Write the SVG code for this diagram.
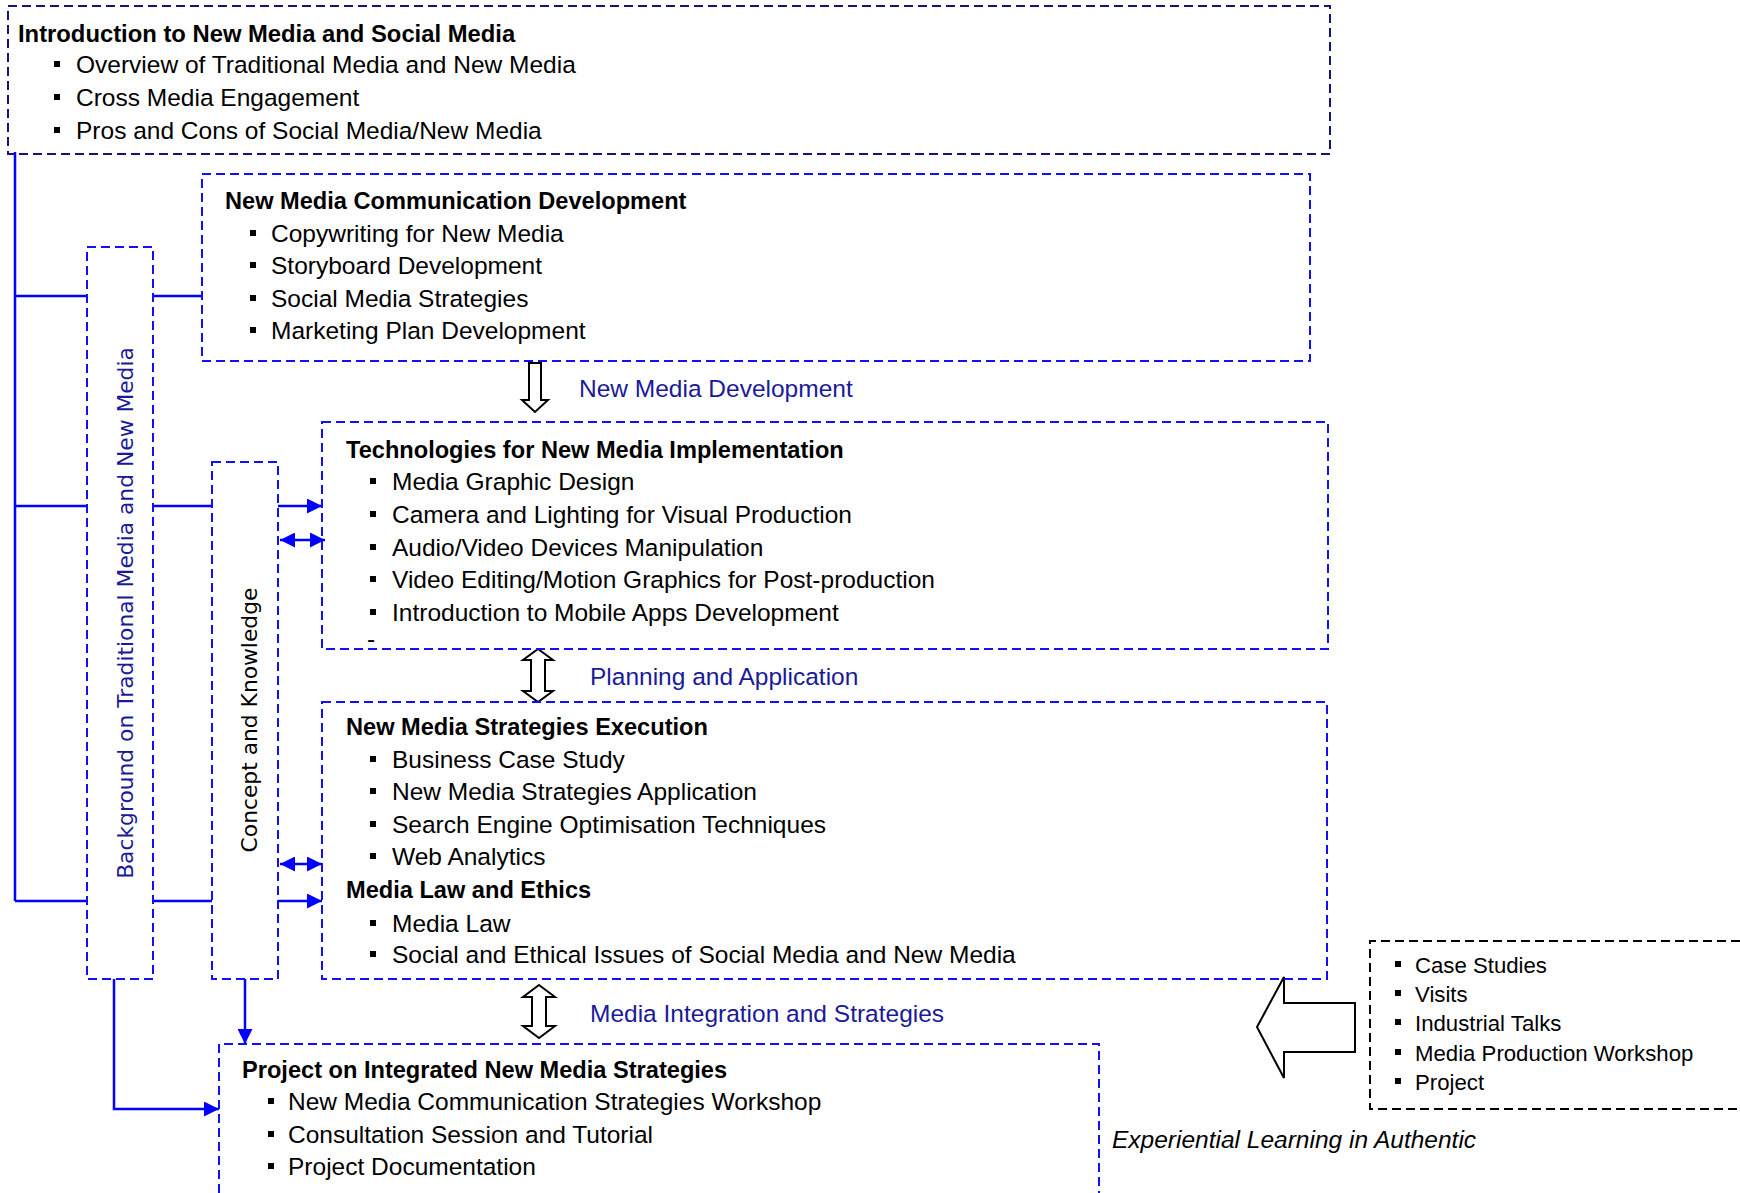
<svg xmlns="http://www.w3.org/2000/svg" width="1740" height="1193" viewBox="0 0 1740 1193">
<style>
.box{fill:none;stroke:#1010ff;stroke-width:2;stroke-dasharray:9 5}
.boxn{fill:none;stroke:#14147a;stroke-width:2;stroke-dasharray:9 5}
.boxk{fill:none;stroke:#000;stroke-width:2;stroke-dasharray:9 5}
.t{font-family:"Liberation Sans",Arial,sans-serif;font-size:24.5px;fill:#000}
.b{font-weight:bold;font-size:23.6px}
.s{font-family:"Liberation Sans",Arial,sans-serif;font-size:22.2px;fill:#000}
.lab{font-family:"Liberation Sans",Arial,sans-serif;font-size:24.5px;fill:#1a1a99}
.v{font-family:"DejaVu Sans",Verdana,sans-serif;font-size:21.8px}
.ln{fill:none;stroke:#0000ff;stroke-width:2.5}
.hol{fill:#fff;stroke:#000;stroke-width:2}
</style>
<defs>
<rect id="sq" x="0" y="-12" width="6" height="6" fill="#000"/>
<marker id="ah" viewBox="0 0 10 10" refX="10" refY="5" markerWidth="6" markerHeight="6" markerUnits="strokeWidth" orient="auto-start-reverse">
<path d="M0,0 L10,5 L0,10 Z" fill="#0000ff"/>
</marker>
</defs>

<g id="connectors">
<path class="ln" d="M15,152 V901"/>
<path class="ln" d="M15,296 H87 M153,296 H202"/>
<path class="ln" d="M15,506 H87 M153,506 H212"/>
<path class="ln" d="M15,901 H87 M153,901 H212"/>
<path class="ln" d="M278,506 H322" marker-end="url(#ah)"/>
<path class="ln" d="M280,540 H325" marker-start="url(#ah)" marker-end="url(#ah)"/>
<path class="ln" d="M280,864 H322" marker-start="url(#ah)" marker-end="url(#ah)"/>
<path class="ln" d="M278,901 H322" marker-end="url(#ah)"/>
<path class="ln" d="M245,979 V1044" marker-end="url(#ah)"/>
<path class="ln" d="M114,979 V1109 H219" marker-end="url(#ah)"/>
<path class="hol" d="M529,363 L541,363 L541,400 L548,400 L535,412 L522,400 L529,400 Z"/>
<path class="hol" d="M538,649 L553,660 L545,660 L545,691 L553,691 L538,702 L523,691 L531,691 L531,660 L523,660 Z"/>
<path class="hol" d="M539,985 L555,997 L546,997 L546,1026 L555,1026 L539,1038 L523,1026 L532,1026 L532,997 L523,997 Z"/>
<path class="hol" d="M1257,1027 L1284,977 L1284,1003 L1355,1003 L1355,1052 L1284,1052 L1284,1078 Z"/>
<text class="lab" x="579" y="397">New Media Development</text>
<text class="lab" x="590" y="685">Planning and Application</text>
<text class="lab" x="590" y="1022">Media Integration and Strategies</text>
</g>

<g id="intro">
<rect class="boxn" x="8" y="6" width="1322" height="148"/>
<text class="t b" x="18" y="42" style="font-size:23.8px">Introduction to New Media and Social Media</text>
<use href="#sq" x="54" y="73"/><text class="t" x="76" y="73">Overview of Traditional Media and New Media</text>
<use href="#sq" x="54" y="106"/><text class="t" x="76" y="106">Cross Media Engagement</text>
<use href="#sq" x="54" y="139"/><text class="t" x="76" y="139">Pros and Cons of Social Media/New Media</text>
</g>

<g id="comm">
<rect class="box" x="202" y="174" width="1108" height="187"/>
<text class="t b" x="225" y="209">New Media Communication Development</text>
<use href="#sq" x="250" y="242"/><text class="t" x="271" y="242">Copywriting for New Media</text>
<use href="#sq" x="250" y="274"/><text class="t" x="271" y="274">Storyboard Development</text>
<use href="#sq" x="250" y="307"/><text class="t" x="271" y="307">Social Media Strategies</text>
<use href="#sq" x="250" y="339"/><text class="t" x="271" y="339">Marketing Plan Development</text>
</g>

<g id="background">
<rect class="box" x="87" y="247" width="66" height="732"/>
<text class="v" fill="#1a1a99" text-anchor="middle" transform="translate(133,613) rotate(-90)">Background on Traditional Media and New Media</text>
</g>

<g id="concept">
<rect class="box" x="212" y="462" width="66" height="517"/>
<text class="v" fill="#000" text-anchor="middle" transform="translate(257,720) rotate(-90)">Concept and Knowledge</text>
</g>

<g id="tech">
<rect class="box" x="322" y="422" width="1006" height="227"/>
<text class="t b" x="346" y="458">Technologies for New Media Implementation</text>
<use href="#sq" x="370" y="490"/><text class="t" x="392" y="490">Media Graphic Design</text>
<use href="#sq" x="370" y="523"/><text class="t" x="392" y="523">Camera and Lighting for Visual Production</text>
<use href="#sq" x="370" y="556"/><text class="t" x="392" y="556">Audio/Video Devices Manipulation</text>
<use href="#sq" x="370" y="588"/><text class="t" x="392" y="588">Video Editing/Motion Graphics for Post-production</text>
<use href="#sq" x="370" y="621"/><text class="t" x="392" y="621">Introduction to Mobile Apps Development</text>
<text class="t" x="367" y="647">-</text>
</g>

<g id="strategies">
<rect class="box" x="322" y="702" width="1005" height="277"/>
<text class="t b" x="346" y="735">New Media Strategies Execution</text>
<use href="#sq" x="370" y="768"/><text class="t" x="392" y="768">Business Case Study</text>
<use href="#sq" x="370" y="800"/><text class="t" x="392" y="800">New Media Strategies Application</text>
<use href="#sq" x="370" y="833"/><text class="t" x="392" y="833">Search Engine Optimisation Techniques</text>
<use href="#sq" x="370" y="865"/><text class="t" x="392" y="865">Web Analytics</text>
<text class="t b" x="346" y="898">Media Law and Ethics</text>
<use href="#sq" x="370" y="932"/><text class="t" x="392" y="932">Media Law</text>
<use href="#sq" x="370" y="963"/><text class="t" x="392" y="963">Social and Ethical Issues of Social Media and New Media</text>
</g>

<g id="project">
<path class="box" d="M219,1193 V1044 H1099 V1193"/>
<text class="t b" x="242" y="1078">Project on Integrated New Media Strategies</text>
<use href="#sq" x="268" y="1110"/><text class="t" x="288" y="1110">New Media Communication Strategies Workshop</text>
<use href="#sq" x="268" y="1143"/><text class="t" x="288" y="1143">Consultation Session and Tutorial</text>
<use href="#sq" x="268" y="1175"/><text class="t" x="288" y="1175">Project Documentation</text>
</g>

<g id="experiential">
<path class="boxk" d="M1740,941 H1370 V1109 H1740"/>
<use href="#sq" x="1395" y="973"/><text class="s" x="1415" y="973">Case Studies</text>
<use href="#sq" x="1395" y="1002"/><text class="s" x="1415" y="1002">Visits</text>
<use href="#sq" x="1395" y="1031"/><text class="s" x="1415" y="1031">Industrial Talks</text>
<use href="#sq" x="1395" y="1061"/><text class="s" x="1415" y="1061">Media Production Workshop</text>
<use href="#sq" x="1395" y="1090"/><text class="s" x="1415" y="1090">Project</text>
<text class="t" x="1112" y="1148" style="font-style:italic">Experiential Learning in Authentic</text>
</g>
</svg>
